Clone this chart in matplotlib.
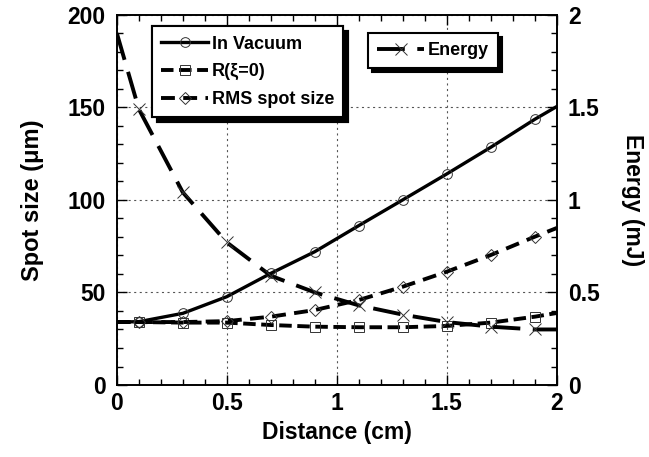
import matplotlib
matplotlib.use("Agg")
import matplotlib.pyplot as plt
from matplotlib.ticker import MultipleLocator

plt.rcParams['font.family'] = ['Liberation Sans', 'DejaVu Sans']
plt.rcParams['font.weight'] = 'bold'
plt.rcParams['lines.scale_dashes'] = False

# distance along propagation (cm); markers sit on the odd tenths
distance = [0, 0.1, 0.3, 0.5, 0.7, 0.9, 1.1, 1.3, 1.5, 1.7, 1.9, 2.0]
vacuum = [34, 34.2, 38.7, 47.7, 60.3, 72.0, 86.1, 100, 114, 128.4, 143.5, 150.4]
r_xi0 = [34, 34, 33.7, 33.7, 32.4, 31.5, 31.2, 31.2, 31.9, 33.7, 36.9, 38.9]
rms_spot = [34, 34, 34, 34.5, 36.9, 40.5, 45.9, 53.1, 61.2, 70.2, 80.1, 84.8]
energy = [1.90, 1.49, 1.04, 0.77, 0.59, 0.50, 0.43, 0.38, 0.34, 0.315, 0.30, 0.30]

marks = list(range(1, 11))

fig = plt.figure(figsize=(6.49, 4.57), dpi=100)
ax = fig.add_axes([0.180, 0.1575, 0.678, 0.8105])
ax2 = ax.twinx()

mk = dict(markersize=7, markerfacecolor='none', markeredgewidth=0.7,
          markeredgecolor='#333333', markevery=marks)
l1, = ax.plot(distance, vacuum, color='black', lw=2.4, marker='o',
              label='In Vacuum', **mk)
l2, = ax.plot(distance, r_xi0, color='black', lw=2.8, marker='s',
              dashes=(9, 4), label='R(\u03be=0)', **mk)
l3, = ax.plot(distance, rms_spot, color='black', lw=2.8, marker='D',
              dashes=(10, 6), label='RMS spot size', **dict(mk, markersize=6))
l4, = ax2.plot(distance, energy, color='black', lw=2.8, marker='x',
               dashes=(20, 9), label='Energy', **dict(mk, markersize=8))

ax.set_xlim(0, 2)
ax.set_ylim(0, 200)
ax2.set_ylim(0, 2)

ax.xaxis.set_major_locator(MultipleLocator(0.5))
ax.xaxis.set_minor_locator(MultipleLocator(0.1))
ax.yaxis.set_major_locator(MultipleLocator(50))
ax.yaxis.set_minor_locator(MultipleLocator(10))
ax2.yaxis.set_major_locator(MultipleLocator(0.5))
ax2.yaxis.set_minor_locator(MultipleLocator(0.1))
ax.xaxis.set_major_formatter(plt.FuncFormatter(lambda v, p: f"{v:g}"))
ax2.yaxis.set_major_formatter(plt.FuncFormatter(lambda v, p: f"{v:g}"))

ax.grid(True, which='major', color='#555555', linestyle=(0, (1.5, 2.5)), lw=0.8)

ax.tick_params(which='both', direction='in', top=True, labelsize=16.5, width=1)
ax.tick_params(axis='x', which='major', length=7, pad=5)
ax.tick_params(axis='y', which='major', length=7, pad=8)
ax.tick_params(which='minor', length=4)
ax2.tick_params(which='both', direction='in', labelsize=16.5, width=1)
ax2.tick_params(which='major', length=7, pad=8)
ax2.tick_params(which='minor', length=4)

for a in (ax, ax2):
    for s in a.spines.values():
        s.set_linewidth(1.2)

ax.set_xlabel('Distance (cm)', fontsize=16.5, fontweight='bold', labelpad=4)
ax.set_ylabel('Spot size (\u03bcm)', fontsize=17, fontweight='bold', labelpad=17)
ax2.set_ylabel('Energy (mJ)', fontsize=16.5, fontweight='bold', rotation=270, labelpad=32)

shadow = {'color': 'black', 'alpha': 1, 'ox': 3, 'oy': -3}
leg1 = ax.legend(handles=[l1, l2, l3], loc='upper left', bbox_to_anchor=(0.081, 0.968),
                 borderaxespad=0, frameon=True, fancybox=False, shadow=shadow,
                 prop={'weight': 'bold', 'size': 13}, handlelength=2.6,
                 handletextpad=0.2, labelspacing=0.6, borderpad=0.5)
leg1.get_frame().set_edgecolor('black')
leg1.get_frame().set_linewidth(1.5)
leg1.get_frame().set_alpha(1)
ax.add_artist(leg1)

leg2 = ax2.legend(handles=[l4], loc='upper left', bbox_to_anchor=(0.571, 0.950),
                  borderaxespad=0, frameon=True, fancybox=False, shadow=shadow,
                  prop={'weight': 'bold', 'size': 13}, handlelength=2.6,
                  handletextpad=0.2, borderpad=0.5)
leg2.get_frame().set_edgecolor('black')
leg2.get_frame().set_linewidth(1.5)
leg2.get_frame().set_alpha(1)

fig.savefig('out.png', dpi=100)
